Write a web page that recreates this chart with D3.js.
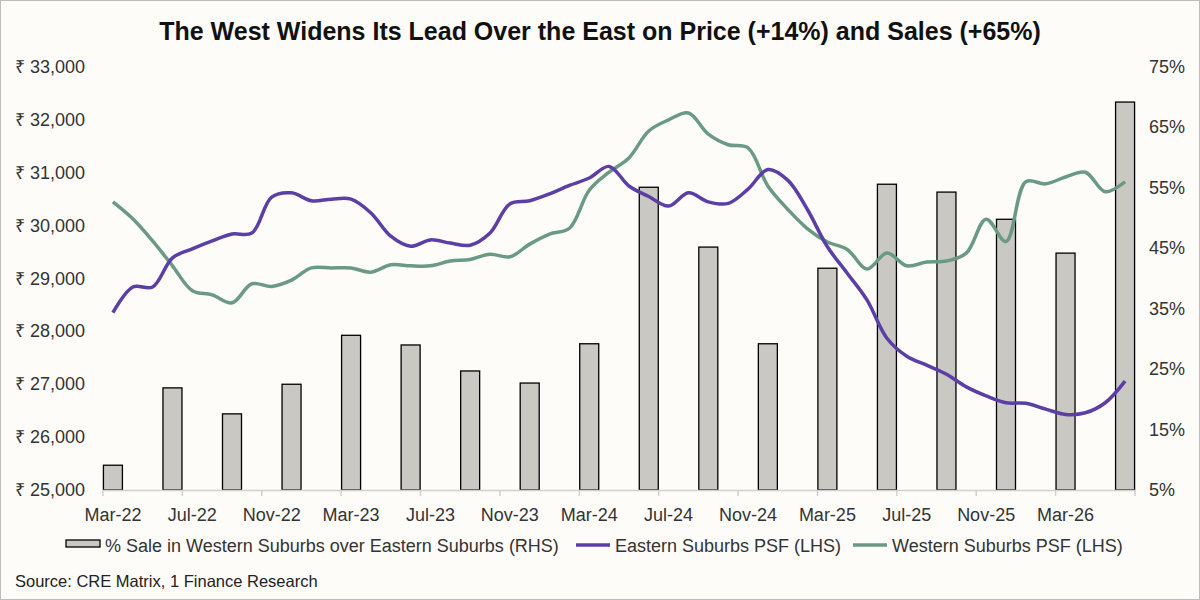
<!DOCTYPE html>
<html><head><meta charset="utf-8">
<script src="https://cdn.jsdelivr.net/npm/d3@7"></script>
<style>body{margin:0;background:#fff}svg{display:block;font-family:"Liberation Sans",Arial,sans-serif}</style>
</head><body><svg id="c" width="1200" height="600"></svg>
<script>
const tickLabels=["Mar-22","Jul-22","Nov-22","Mar-23","Jul-23","Nov-23","Mar-24","Jul-24","Nov-24","Mar-25","Jul-25","Nov-25","Mar-26"];
const barMonths=[0,3,6,9,12,15,18,21,24,27,30,33,36,39,42,45,48,51];
const barValues=[9.1,21.9,17.6,22.5,30.6,29.0,24.7,22.7,29.2,55.1,45.2,29.2,41.7,55.6,54.3,49.8,44.2,69.2];
const eastPSF=[28353,28840,28840,29390,29560,29710,29840,29860,30540,30620,30470,30500,30500,30240,29800,29610,29730,29670,29630,29860,30410,30470,30600,30760,30900,31120,30750,30550,30370,30620,30450,30420,30690,31060,30860,30300,29600,29100,28590,27870,27530,27360,27190,26950,26780,26650,26640,26530,26430,26460,26650,27060];
const westPSF=[30450,30130,29710,29240,28770,28690,28540,28900,28850,28970,29200,29200,29200,29120,29260,29240,29240,29330,29360,29460,29410,29650,29840,29950,30670,31010,31280,31790,32000,32130,31730,31530,31470,30750,30310,29940,29690,29550,29180,29480,29240,29310,29330,29480,30120,29700,30830,30790,30920,31010,30640,30830];
const leftTicks=[25000,26000,27000,28000,29000,30000,31000,32000,33000];
const rightTicks=[5,15,25,35,45,55,65,75];

const svg=d3.select("#c");
svg.append("rect").attr("x",0.5).attr("y",0.5).attr("width",1199).attr("height",599).attr("fill","#fdfcf8").attr("stroke","#bdbdbd");
const L=103,R=1135,T=67,B=490;
const x=d3.scaleBand().domain(d3.range(52)).range([L,R]);
const yL=d3.scaleLinear().domain([25000,33000]).range([B,T]);
const yR=d3.scaleLinear().domain([5,75]).range([B,T]);
const cx=m=>x(m)+x.bandwidth()/2;

svg.append("text").attr("x",600).attr("y",40).attr("text-anchor","middle").attr("font-size",25).attr("font-weight","bold").attr("fill","#111")
 .text("The West Widens Its Lead Over the East on Price (+14%) and Sales (+65%)");

svg.append("g").selectAll("text").data(leftTicks).join("text").attr("x",15).attr("y",d=>yL(d)+6).attr("font-size",18).attr("fill","#333")
 .text(d=>"₹ "+d3.format(",")(d));
svg.append("g").selectAll("text").data(rightTicks).join("text").attr("x",1149).attr("y",d=>yR(d)+6).attr("font-size",18).attr("fill","#333")
 .text(d=>d+"%");

const bw=19;
svg.append("g").selectAll("rect").data(barMonths).join("rect")
 .attr("x",m=>cx(m)-bw/2).attr("width",bw)
 .attr("y",(m,i)=>yR(barValues[i])).attr("height",(m,i)=>B-yR(barValues[i]))
 .attr("fill","#c9c8c3").attr("stroke","#000").attr("stroke-width",1.3);

svg.append("line").attr("x1",L).attr("x2",R).attr("y1",B+0.5).attr("y2",B+0.5).attr("stroke","#d0d0d0").attr("stroke-width",1.5);
const tickPos=d3.range(0,53,4).map(m=>L+m*x.bandwidth());
svg.append("g").selectAll("line").data(tickPos).join("line").attr("x1",d=>d).attr("x2",d=>d).attr("y1",B).attr("y2",B+6).attr("stroke","#d0d0d0").attr("stroke-width",1.5);
svg.append("g").selectAll("text").data(tickLabels).join("text").attr("x",(d,i)=>cx(i*4)).attr("y",B+31).attr("text-anchor","middle").attr("font-size",18).attr("fill","#333").text(d=>d);

const line=d3.line().x((d,i)=>cx(i)).y(d=>yL(d)).curve(d3.curveCatmullRom.alpha(0.5));
svg.append("path").attr("d",line(westPSF)).attr("fill","none").attr("stroke","#6a9a84").attr("stroke-width",3.5);
svg.append("path").attr("d",line(eastPSF)).attr("fill","none").attr("stroke","#5b3ea6").attr("stroke-width",3.5);

const lg=svg.append("g").attr("font-size",18).attr("fill","#333");
lg.append("rect").attr("x",66).attr("y",540).attr("width",34).attr("height",7).attr("fill","#c9c8c3").attr("stroke","#000").attr("stroke-width",1.3);
lg.append("text").attr("x",105).attr("y",552).text("% Sale in Western Suburbs over Eastern Suburbs (RHS)");
lg.append("line").attr("x1",576).attr("x2",610).attr("y1",545).attr("y2",545).attr("stroke","#5b3ea6").attr("stroke-width",3.5);
lg.append("text").attr("x",615).attr("y",552).text("Eastern Suburbs PSF (LHS)");
lg.append("line").attr("x1",853).attr("x2",887).attr("y1",545).attr("y2",545).attr("stroke","#6a9a84").attr("stroke-width",3.5);
lg.append("text").attr("x",892).attr("y",552).text("Western Suburbs PSF (LHS)");

svg.append("text").attr("x",15).attr("y",587).attr("font-size",16.5).attr("fill","#222").text("Source: CRE Matrix, 1 Finance Research");
</script></body></html>
